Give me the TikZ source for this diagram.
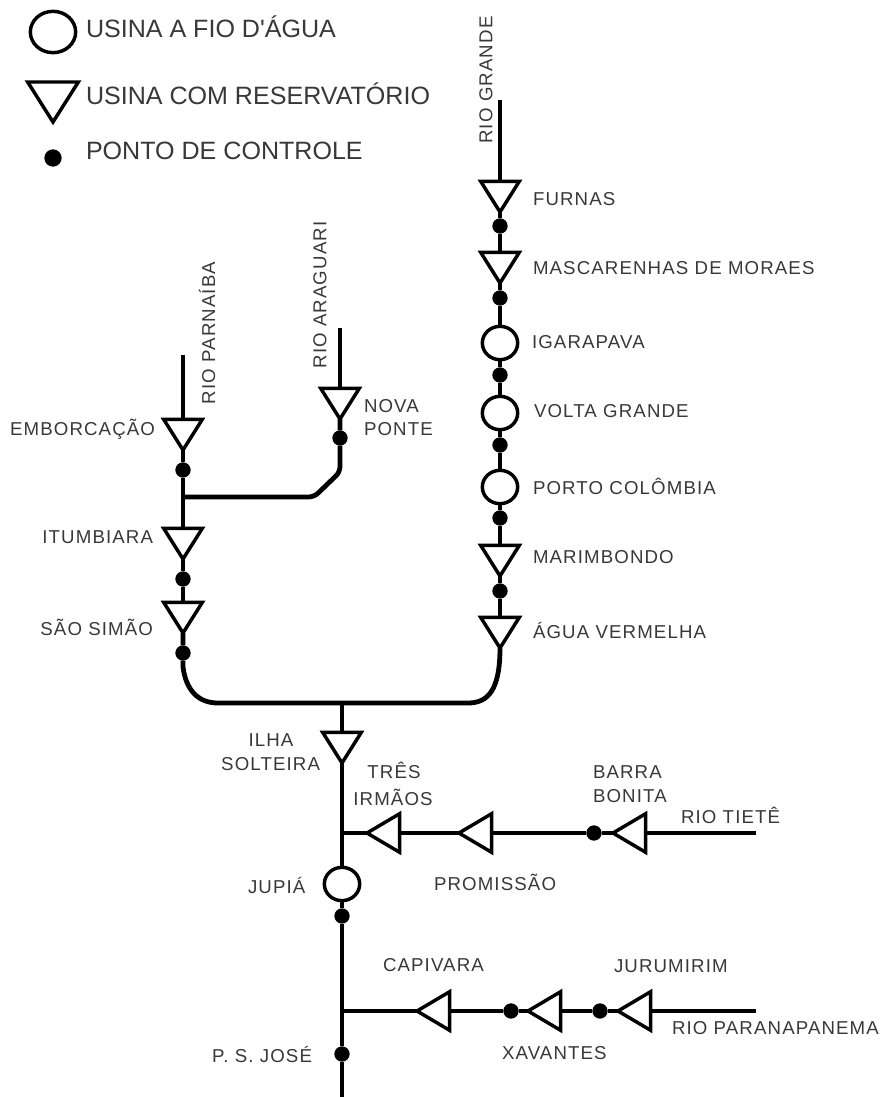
\documentclass[tikz,border=0pt]{standalone}
\usepackage{fontspec}
\usetikzlibrary{shapes.geometric}
\setmainfont{Liberation Sans}
\newfontfamily\labfont[LetterSpace=6]{Liberation Sans}
\newfontfamily\legfont{Liberation Sans}
\definecolor{txt}{gray}{0.22}
\tikzset{
  x=0.75pt,y=-0.75pt,
  river/.style={line width=3.6pt,black,line cap=butt},
  trid/.style={isosceles triangle,isosceles triangle stretches,shape border rotate=270,draw=black,fill=white,line width=2.6pt,minimum width=29pt,minimum height=23pt,inner sep=0pt,outer sep=0pt,anchor=apex},
  tril/.style={isosceles triangle,isosceles triangle stretches,shape border rotate=180,draw=black,fill=white,line width=2.6pt,minimum width=29pt,minimum height=24.5pt,inner sep=0pt,outer sep=0pt,anchor=apex},
  run/.style={ellipse,draw=black,fill=white,line width=2.6pt,minimum width=26.5pt,minimum height=25pt,inner sep=0pt,outer sep=0pt},
  ctrl/.style={circle,fill=black,minimum size=11.5pt,inner sep=0pt,outer sep=0pt},
  lab/.style={font=\labfont\fontsize{14pt}{15pt}\selectfont,text=txt,inner sep=0pt,outer sep=0pt},
  leg/.style={font=\legfont\fontsize{18.8pt}{20pt}\selectfont,text=txt,inner sep=0pt,outer sep=0pt,anchor=west},
}
\begin{document}
\begin{tikzpicture}
\useasboundingbox (0,0) rectangle (880,1097);
% free ends
\coordinate (gtop) at (500,100);
\coordinate (ptop) at (183,355);
\coordinate (atop) at (340,328);
\coordinate (ttop) at (756,833);
\coordinate (rtop) at (756,1011);
\coordinate (bot) at (342,1097);
\coordinate (jtop) at (342,703);
\coordinate (jpar) at (183,497);
\coordinate (jtie) at (342,833);
\coordinate (jpp) at (342,1011);
% control points
\node[ctrl] (d1) at (500,226) {};
\node[ctrl] (d2) at (500,298) {};
\node[ctrl] (d3) at (500,375) {};
\node[ctrl] (d4) at (500,445) {};
\node[ctrl] (d5) at (500,518) {};
\node[ctrl] (d6) at (500,591) {};
\node[ctrl] (d7) at (183,470) {};
\node[ctrl] (d8) at (340,438) {};
\node[ctrl] (d9) at (183,579) {};
\node[ctrl] (d10) at (183,653) {};
\node[ctrl] (d11) at (342,916) {};
\node[ctrl] (d12) at (342,1054) {};
\node[ctrl] (d13) at (594,833) {};
\node[ctrl] (d14) at (511,1011) {};
\node[ctrl] (d15) at (600,1011) {};
% plants
\node[trid] (furnas) at (500,212) {};
\node[trid] (masc) at (500,283) {};
\node[run] (igar) at (500,343) {};
\node[run] (volta) at (500,413) {};
\node[run] (porto) at (500,487) {};
\node[trid] (marim) at (500,576) {};
\node[trid] (agua) at (500,648) {};
\node[trid] (embor) at (183,450) {};
\node[trid] (nova) at (340,419) {};
\node[trid] (itum) at (183,559) {};
\node[trid] (sao) at (183,633) {};
\node[trid] (ilha) at (342,763) {};
\node[run] (jupia) at (342,884) {};
\node[tril] (tres) at (367,833) {};
\node[tril] (prom) at (459,833) {};
\node[tril] (barra) at (613,833) {};
\node[tril] (capi) at (417,1011) {};
\node[tril] (xava) at (528,1011) {};
\node[tril] (juru) at (618,1011) {};
% rivers
\draw[river] (gtop) -- (furnas.lower side);
\draw[river] (furnas.apex) -- (d1) -- (masc.lower side);
\draw[river] (masc.apex) -- (d2) -- (igar.north);
\draw[river] (igar.south) -- (d3) -- (volta.north);
\draw[river] (volta.south) -- (d4) -- (porto.north);
\draw[river] (porto.south) -- (d5) -- (marim.lower side);
\draw[river] (marim.apex) -- (d6) -- (agua.lower side);
\draw[river] (ptop) -- (embor.lower side);
\draw[river] (embor.apex) -- (d7) -- (itum.lower side);
\draw[river] (atop) -- (nova.lower side);
\draw[river,rounded corners=4pt] (nova.apex) -- (d8) -- (340,472) -- (314,497) -- (jpar);
\draw[river] (itum.apex) -- (d9) -- (sao.lower side);
\draw[river] (sao.apex) -- (d10) -- (183,667) .. controls (186,690) and (198,703) .. (218,703) -- (468,703) .. controls (488,703) and (500,690) .. (agua.apex);
\draw[river] (jtop) -- (ilha.lower side);
\draw[river] (ilha.apex) -- (jupia.north);
\draw[river] (jupia.south) -- (d11) -- (d12) -- (bot);
\draw[river] (ttop) -- (barra.lower side);
\draw[river] (barra.apex) -- (d13) -- (prom.lower side);
\draw[river] (prom.apex) -- (tres.lower side);
\draw[river] (tres.apex) -- (jtie);
\draw[river] (rtop) -- (juru.lower side);
\draw[river] (juru.apex) -- (d15) -- (xava.lower side);
\draw[river] (xava.apex) -- (d14) -- (capi.lower side);
\draw[river] (capi.apex) -- (jpp);
% legend
\node[run,minimum width=34pt,minimum height=31pt] (lc) at (53,32) {};
\node[trid,minimum width=38pt,minimum height=30pt] (lt) at (53,122) {};
\node[ctrl,minimum size=13pt] (ld) at (53,158) {};
\node[leg] (l1) at (86,27) {USINA A FIO D'ÁGUA};
\node[leg] (l2) at (86,94) {USINA COM RESERVATÓRIO};
\node[leg] (l3) at (86,151) {PONTO DE CONTROLE};
% labels
\tikzset{lw/.style={lab,anchor=west},le/.style={lab,anchor=east},lc2/.style={lab,anchor=center}}
\node[lw] (t1) at (533,199) {FURNAS};
\node[lw] (t2) at (533,268) {MASCARENHAS DE MORAES};
\node[lw] (t3) at (532,342) {IGARAPAVA};
\node[lw] (t4) at (534,411) {VOLTA GRANDE};
\node[lw] (t5) at (533,486) {PORTO COLÔMBIA};
\node[lw] (t6) at (533,557) {MARIMBONDO};
\node[lw] (t7) at (533,630) {ÁGUA VERMELHA};
\node[lab,rotate=90,anchor=center] (t8) at (486,80) {RIO GRANDE};
\node[lab,rotate=90,anchor=center] (t9) at (207,333) {RIO PARNAÍBA};
\node[lab,rotate=90,anchor=center] (t10) at (320,295) {RIO ARAGUARI};
\node[lw] (t11) at (364,406) {NOVA};
\node[lw] (t12) at (364,429) {PONTE};
\node[le] (t13) at (155,429) {EMBORCAÇÃO};
\node[le] (t14) at (153,537) {ITUMBIARA};
\node[le] (t15) at (153,627) {SÃO SIMÃO};
\node[lc2] (t16) at (271,740) {ILHA};
\node[le] (t17) at (320,764) {SOLTEIRA};
\node[lc2] (t18) at (394,770) {TRÊS};
\node[lc2] (t19) at (393,797) {IRMÃOS};
\node[lw] (t20) at (593,772) {BARRA};
\node[lw] (t21) at (593,796) {BONITA};
\node[lw] (t22) at (681,815) {RIO TIETÊ};
\node[lw] (t23) at (434,882) {PROMISSÃO};
\node[lw] (t24) at (248,885) {JUPIÁ};
\node[lw] (t25) at (383,965) {CAPIVARA};
\node[lw] (t26) at (614,966) {JURUMIRIM};
\node[lw] (t27) at (672,1028) {RIO PARANAPANEMA};
\node[lw] (t28) at (502,1053) {XAVANTES};
\node[le] (t29) at (312,1054) {P. S. JOSÉ};
\end{tikzpicture}
\end{document}
